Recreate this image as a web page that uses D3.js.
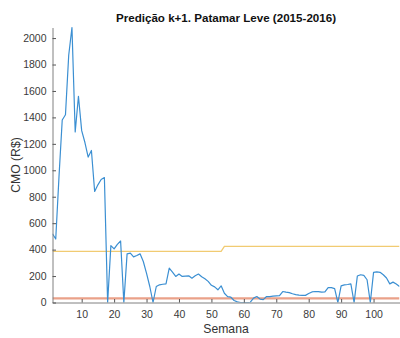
<!DOCTYPE html>
<html>
<head>
<meta charset="utf-8">
<script src="https://cdn.jsdelivr.net/npm/d3@7"></script>
<style>
  html, body { margin: 0; padding: 0; background: #fff; }
  svg { display: block; }
  text { font-family: "Liberation Sans", Arial, Helvetica, sans-serif; }
</style>
</head>
<body>
<div id="chart"></div>
<script>
// Weekly CMO predicted one step ahead (k+1), light load level, 2015-2016
const semanas = d3.range(1, 109);
const cmoPrevisto = [
  520, 480, 950, 1380, 1420, 1870, 2080, 1290, 1560, 1300,
  1210, 1100, 1150, 840, 890, 930, 945, 0, 430, 405,
  440, 465, 0, 368, 373, 345, 355, 368, 310, 220,
  121, 0, 121, 134, 138, 141, 260, 230, 197, 215,
  197, 200, 202, 184, 202, 215, 195, 180, 160, 130,
  118, 96, 126, 70, 45, 40, 15, 5, 0, 0,
  0, 2, 33, 45, 26, 22, 45, 45, 48, 50,
  52, 83, 78, 75, 66, 60, 56, 54, 54, 68,
  80, 83, 82, 78, 80, 113, 112, 105, 0, 126,
  133, 136, 141, 0, 200, 210, 205, 172, 0, 228,
  232, 228, 210, 185, 141, 154, 140, 121
];
// Upper limit: constant level, raised after week 53
const limiteSuperior = semanas.map(s => s <= 53 ? 386 : 424);
// Lower limit: flat level
const limiteInferior = semanas.map(() => 31);

const xTicks = d3.range(10, 101, 10);
const yTicks = d3.range(0, 2001, 200);

const W = 400, H = 338;
const margin = { left: 52.5, right: 0.5, top: 27.5, bottom: 35.5 };

const svg = d3.select("#chart").append("svg")
  .attr("width", W).attr("height", H);

const x = d3.scaleLinear().domain([1, 108]).range([margin.left, W - margin.right]);
const y = d3.scaleLinear().domain([0, 2080]).range([H - margin.bottom, margin.top]);

svg.append("defs").append("clipPath").attr("id", "plotClip")
  .append("rect")
  .attr("x", margin.left).attr("y", margin.top - 2)
  .attr("width", W - margin.left - margin.right)
  .attr("height", H - margin.top - margin.bottom + 2);

const plot = svg.append("g").attr("clip-path", "url(#plotClip)");

const line = d3.line().x((d, i) => x(semanas[i])).y(d => y(d));

plot.append("path").datum(limiteSuperior)
  .attr("d", line).attr("fill", "none")
  .attr("stroke", "#f1cb72").attr("stroke-width", 1.3);

plot.append("path").datum(limiteInferior)
  .attr("d", line).attr("fill", "none")
  .attr("stroke", "#eaa189").attr("stroke-width", 2.2);

plot.append("path").datum(cmoPrevisto)
  .attr("d", line).attr("fill", "none")
  .attr("stroke", "#3b8fd2").attr("stroke-width", 1.2)
  .attr("stroke-linejoin", "round");

// Axes with inward ticks
const axisColor = "#808080";
const fmt = d3.format("d");
const xAxis = svg.append("g")
  .attr("transform", `translate(0,${H - margin.bottom})`)
  .call(d3.axisBottom(x).tickValues(xTicks).tickFormat(fmt)
    .tickSize(-3.5).tickPadding(8).tickSizeOuter(0));
const yAxis = svg.append("g")
  .attr("transform", `translate(${margin.left},0)`)
  .call(d3.axisLeft(y).tickValues(yTicks).tickFormat(fmt)
    .tickSize(-3.5).tickPadding(6).tickSizeOuter(0));

[xAxis, yAxis].forEach(a => {
  a.select(".domain").attr("stroke", axisColor).attr("stroke-width", 1);
  a.selectAll(".tick line").attr("stroke", "#555").attr("stroke-width", 1);
  a.selectAll(".tick text")
    .attr("fill", "#3a3a3a")
    .style("font-size", "10.5px")
    .style("font-family", "'Liberation Sans', Arial, sans-serif");
});

// Title and axis labels
svg.append("text")
  .attr("x", (margin.left + W - margin.right) / 2).attr("y", 21.5)
  .attr("text-anchor", "middle")
  .style("font-size", "11.6px").style("font-weight", "bold")
  .attr("fill", "#111")
  .text("Predição k+1. Patamar Leve (2015-2016)");

svg.append("text")
  .attr("x", (margin.left + W - margin.right) / 2).attr("y", 332.5)
  .attr("text-anchor", "middle")
  .style("font-size", "12.2px").attr("fill", "#333")
  .text("Semana");

svg.append("text")
  .attr("transform", `translate(20,${(margin.top + H - margin.bottom) / 2}) rotate(-90)`)
  .attr("text-anchor", "middle")
  .style("font-size", "12.2px").attr("fill", "#333")
  .text("CMO (R$)");
</script>
</body>
</html>
